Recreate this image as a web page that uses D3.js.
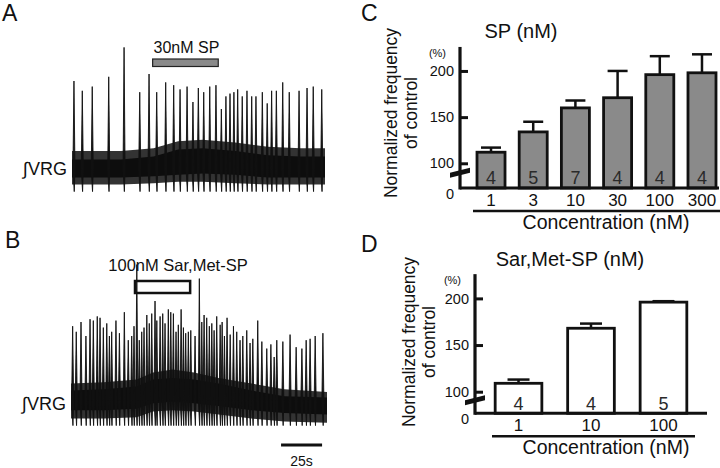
<!DOCTYPE html>
<html>
<head>
<meta charset="utf-8">
<script src="https://cdn.jsdelivr.net/npm/d3@7"></script>
<style>
  body { margin: 0; background: #fff; }
  svg { display: block; }
  text { font-family: "Liberation Sans", Arial, sans-serif; fill: #111; }
</style>
</head>
<body>
<div id="figure"></div>
<script>

// ---- Trace A: 30nM SP (time in s, amplitude in arbitrary units) ----
var spikeTimesA = [1.2, 6.3, 12.4, 22.5, 31.9, 41.5, 47.2, 51.9, 57.4, 62.3, 66.2, 70.5,
  74.1, 77.4, 80.7, 84.4, 88.2, 91.5, 94.3, 96.8, 99.2, 101.5, 104.3, 107.2, 110.1,
  112.7, 116.6, 119.6, 122.3, 125.2, 129.1, 133.1, 139.1, 144.0, 147.8, 153.0];
var spikeAmpA = [75, 68, 71, 78, 99, 67, 80, 67, 74, 72, 69, 71,
  60, 70, 67, 71, 72, 55, 64, 66, 67, 69, 64, 68, 64,
  64, 67, 59, 68, 68, 74, 67, 68, 70, 71, 69];
var envTimesA = [0, 30, 50, 65, 80, 100, 120, 140, 155];
var envOuterHiA = [25, 25, 27, 32, 33, 31, 28, 27, 27];
var envCoreHiA = [19, 19, 21, 26, 27, 25, 22, 21, 21];
var envCoreLoA = [6, 6, 7, 8, 9, 8, 6, 6, 6];
var envOuterLoA = [1, 1, 2, 3, 3, 2, 1, 1, 1];
var drugA = [49.4, 89.6];

// ---- Trace B: 100nM Sar,Met-SP ----
var spikeTimesB = [1.0, 3.2, 6.1, 9.1, 11.6, 13.6, 16.0, 17.7, 19.7, 21.8, 23.4, 24.8,
  27.4, 29.5, 32.5, 34.9, 37.0, 38.4, 40.1, 41.6, 43.1, 44.5, 46.2, 47.7, 49.2, 51.2,
  52.3, 54.3, 55.9, 57.3, 59.3, 60.8, 62.4, 64.0, 65.4, 67.1, 68.5, 69.9, 71.5, 73.0,
  75.6, 78.2, 79.7, 81.1, 82.7, 84.3, 85.8, 87.2, 88.8, 90.9, 92.1, 93.5, 95.1, 97.0,
  99.0, 101.0, 103.0, 104.7, 107.1, 109.1, 110.8, 113.8, 116.3, 119.3, 121.8, 123.8,
  125.4, 129.1, 133.5, 137.2, 140.7, 143.3, 145.7, 148.8, 153.5];
var spikeAmpB = [67, 63, 70, 60, 72, 71, 74, 73, 66, 69, 60, 63,
  71, 62, 77, 57, 60, 67, 111, 57, 63, 66, 75, 69, 76, 85,
  71, 74, 76, 69, 79, 77, 76, 63, 68, 79, 66, 62, 63, 64,
  60, 101, 70, 75, 73, 67, 69, 64, 74, 68, 70, 60, 73, 61,
  67, 63, 57, 60, 64, 55, 58, 71, 56, 51, 54, 45,
  57, 56, 61, 52, 51, 57, 58, 60, 62];
var envTimesB = [0, 20, 40, 50, 62, 75, 90, 110, 130, 156];
var envOuterHiB = [26, 27, 29, 34, 36, 34, 30, 26, 22, 20];
var envCoreHiB = [21, 22, 24, 29, 30, 29, 26, 21, 17, 16];
var envCoreLoB = [7, 7, 8, 12, 13, 12, 10, 7, 5, 4];
var envOuterLoB = [1, 1, 2, 6, 7, 6, 4, 1, -1, -2];
var drugB = [39, 72.6];
var scaleBarB = [128, 153];

// ---- Panel C: SP concentration response ----
var spConc = ["1", "3", "10", "30", "100", "300"];
var spMean = [112, 134, 160, 171, 196, 198];
var spSem = [5, 11, 8, 29, 20, 20];
var spN = [4, 5, 7, 4, 4, 4];

// ---- Panel D: Sar,Met-SP concentration response ----
var sarConc = ["1", "10", "100"];
var sarMean = [109, 168, 196];
var sarSem = [4, 5, 1];
var sarN = [4, 4, 5];

var yTickValues = [0, 100, 150, 200];

var width = 720, height = 468;

var svg = d3.select("#figure").append("svg")
  .attr("width", width)
  .attr("height", height);

// Panel letters
[["A", 2, 21], ["B", 5, 248], ["C", 361, 21], ["D", 361, 252]].forEach(function(p) {
  svg.append("text")
    .attr("x", p[1]).attr("y", p[2])
    .style("font-size", "23px")
    .text(p[0]);
});

function zipEnv(times, hi, lo) {
  return times.map(function(t, i) { return { t: t, hi: hi[i], lo: lo[i] }; });
}

// Draw one integrated VRG trace
function drawTrace(cfg) {
  var g = svg.append("g");

  var x = d3.scaleLinear().domain(cfg.timeDomain).range(cfg.xRange);
  var y = d3.scaleLinear().domain([0, 100]).range(cfg.yRange);

  var area = d3.area()
    .x(function(d) { return x(d.t); })
    .y0(function(d) { return y(d.lo); })
    .y1(function(d) { return y(d.hi); });

  // noisy baseline: outer band and dark core
  g.append("path")
    .datum(zipEnv(cfg.envTimes, cfg.outerHi, cfg.outerLo))
    .attr("d", area)
    .attr("fill", "#333");
  g.append("path")
    .datum(zipEnv(cfg.envTimes, cfg.coreHi, cfg.coreLo))
    .attr("d", area)
    .attr("fill", "#0d0d0d");

  // spikes, each with a small undershoot below the band
  var spikes = cfg.spikeTimes.map(function(t, i) { return { t: t, a: cfg.spikeAmp[i] }; });
  g.selectAll(".spike")
    .data(spikes)
    .enter()
    .append("path")
    .attr("class", "spike")
    .attr("d", function(d) {
      return "M" + (x(d.t) - 1) + "," + y(cfg.spikeBase) +
        "L" + x(d.t) + "," + y(d.a) +
        "L" + (x(d.t) + 1) + "," + y(cfg.spikeBase) +
        "L" + (x(d.t) + 0.3) + "," + y(-4) + "Z";
    })
    .attr("fill", "#111")
    .attr("stroke", "#111")
    .attr("stroke-width", 0.9);

  // label
  g.append("text")
    .attr("x", cfg.xRange[0] - 5)
    .attr("y", cfg.labelY)
    .attr("text-anchor", "end")
    .style("font-size", "18px")
    .text("\u222BVRG");

  return x;
}

var xA = drawTrace({
  timeDomain: [0, 155], xRange: [72, 325], yRange: [186, 46],
  envTimes: envTimesA, outerHi: envOuterHiA, coreHi: envCoreHiA,
  coreLo: envCoreLoA, outerLo: envOuterLoA,
  spikeTimes: spikeTimesA, spikeAmp: spikeAmpA, spikeBase: 12, labelY: 175
});

// drug application bar (A)
svg.append("rect")
  .attr("x", xA(drugA[0]))
  .attr("y", 59)
  .attr("width", xA(drugA[1]) - xA(drugA[0]))
  .attr("height", 7.5)
  .attr("fill", "#8a8a8a")
  .attr("stroke", "#222")
  .attr("stroke-width", 1.2);
svg.append("text")
  .attr("x", (xA(drugA[0]) + xA(drugA[1])) / 2 + 1)
  .attr("y", 53)
  .attr("text-anchor", "middle")
  .style("font-size", "16px")
  .text("30nM SP");

var xB = drawTrace({
  timeDomain: [0, 156], xRange: [71, 327], yRange: [420, 280],
  envTimes: envTimesB, outerHi: envOuterHiB, coreHi: envCoreHiB,
  coreLo: envCoreLoB, outerLo: envOuterLoB,
  spikeTimes: spikeTimesB, spikeAmp: spikeAmpB, spikeBase: 14, labelY: 410
});

// drug application box (B)
svg.append("text")
  .attr("x", 178)
  .attr("y", 271)
  .attr("text-anchor", "middle")
  .style("font-size", "16.5px")
  .text("100nM Sar,Met-SP");
svg.append("rect")
  .attr("x", xB(drugB[0]))
  .attr("y", 281)
  .attr("width", xB(drugB[1]) - xB(drugB[0]))
  .attr("height", 12)
  .attr("fill", "none")
  .attr("stroke", "#111")
  .attr("stroke-width", 2.5);

// time scale bar
svg.append("line")
  .attr("x1", xB(scaleBarB[0])).attr("x2", xB(scaleBarB[1]))
  .attr("y1", 445).attr("y2", 445)
  .attr("stroke", "#111")
  .attr("stroke-width", 3);
svg.append("text")
  .attr("x", (xB(scaleBarB[0]) + xB(scaleBarB[1])) / 2)
  .attr("y", 466)
  .attr("text-anchor", "middle")
  .style("font-size", "14px")
  .text("25s");

// Draw a concentration-response bar panel
function drawBars(cfg) {
  var g = svg.append("g");

  var x = d3.scaleBand()
    .domain(cfg.conc)
    .range(cfg.xRange)
    .paddingInner(cfg.padInner)
    .paddingOuter(cfg.padOuter);

  // broken axis: 0-100 compressed, 100-226 linear
  var y = d3.scaleLinear()
    .domain([0, 100, 226])
    .range([cfg.y0, cfg.y100, cfg.y100 - 126 * cfg.pxPerUnit]);

  var data = cfg.conc.map(function(c, i) {
    return { c: c, mean: cfg.mean[i], sem: cfg.sem[i], n: cfg.n[i] };
  });

  // error bars behind the bars
  g.selectAll(".err")
    .data(data)
    .enter()
    .append("line")
    .attr("x1", function(d) { return x(d.c) + x.bandwidth() / 2; })
    .attr("x2", function(d) { return x(d.c) + x.bandwidth() / 2; })
    .attr("y1", function(d) { return y(d.mean); })
    .attr("y2", function(d) { return y(d.mean + d.sem); })
    .attr("stroke", "#111")
    .attr("stroke-width", 2.5);
  g.selectAll(".cap")
    .data(data)
    .enter()
    .append("line")
    .attr("x1", function(d) { return x(d.c) + x.bandwidth() / 2 - cfg.capW / 2; })
    .attr("x2", function(d) { return x(d.c) + x.bandwidth() / 2 + cfg.capW / 2; })
    .attr("y1", function(d) { return y(d.mean + d.sem); })
    .attr("y2", function(d) { return y(d.mean + d.sem); })
    .attr("stroke", "#111")
    .attr("stroke-width", 2.5);

  g.selectAll(".bar")
    .data(data)
    .enter()
    .append("rect")
    .attr("x", function(d) { return x(d.c); })
    .attr("y", function(d) { return y(d.mean); })
    .attr("width", x.bandwidth())
    .attr("height", function(d) { return cfg.y0 - y(d.mean); })
    .attr("fill", cfg.fill)
    .attr("stroke", "#111")
    .attr("stroke-width", 2.8);

  // n inside bars
  g.selectAll(".nlab")
    .data(data)
    .enter()
    .append("text")
    .attr("x", function(d) { return x(d.c) + x.bandwidth() / 2; })
    .attr("y", cfg.nY)
    .attr("text-anchor", "middle")
    .style("font-size", "18px")
    .style("fill", "#2a2a2a")
    .text(function(d) { return d.n; });

  // y axis, ticks pointing inward
  var yAxis = d3.axisLeft(y)
    .tickValues(yTickValues)
    .tickSize(-8)
    .tickPadding(6)
    .tickFormat(d3.format("d"));
  var ya = g.append("g")
    .attr("transform", "translate(" + cfg.axisX + ",0)")
    .call(yAxis);
  ya.select(".domain").remove();
  ya.selectAll("line").attr("stroke", "#111").attr("stroke-width", 3);
  ya.selectAll("text")
    .style("font-size", "14.5px")
    .style("font-family", "Liberation Sans, Arial, sans-serif")
    .attr("fill", "#111");
  ya.selectAll(".tick").filter(function(d) { return d === 0; }).select("line").remove();
  ya.selectAll(".tick").filter(function(d) { return d === 0; }).select("text").attr("dy", "0.7em");

  // axis lines
  g.append("line")
    .attr("x1", cfg.axisX).attr("x2", cfg.axisX)
    .attr("y1", cfg.y0 + 1.5).attr("y2", y(226))
    .attr("stroke", "#111").attr("stroke-width", 3.2);
  g.append("line")
    .attr("x1", cfg.axisX).attr("x2", cfg.xAxisEnd)
    .attr("y1", cfg.y0).attr("y2", cfg.y0)
    .attr("stroke", "#111").attr("stroke-width", 3);

  // axis break mark
  var by = y(70);
  g.append("path")
    .attr("d", "M" + (cfg.axisX - 10) + "," + (by + 2) +
      "L" + (cfg.axisX + 10) + "," + (by - 3) +
      "L" + (cfg.axisX + 10) + "," + (by + 2) +
      "L" + (cfg.axisX - 10) + "," + (by + 7) + "Z")
    .attr("fill", "#111");

  g.append("text")
    .attr("x", cfg.axisX - 14)
    .attr("y", y(226) + 10)
    .attr("text-anchor", "end")
    .style("font-size", "11px")
    .text("(%)");

  // category labels and underline
  g.selectAll(".xlab")
    .data(data)
    .enter()
    .append("text")
    .attr("x", function(d) { return x(d.c) + x.bandwidth() / 2; })
    .attr("y", cfg.y0 + 18)
    .attr("text-anchor", "middle")
    .style("font-size", "17px")
    .text(function(d) { return d.c; });
  g.append("line")
    .attr("x1", cfg.underline[0]).attr("x2", cfg.underline[1])
    .attr("y1", cfg.y0 + 23).attr("y2", cfg.y0 + 23)
    .attr("stroke", "#111").attr("stroke-width", 2.5);
  g.append("text")
    .attr("x", 606)
    .attr("y", cfg.y0 + 41)
    .attr("text-anchor", "middle")
    .style("font-size", "19.5px")
    .text("Concentration (nM)");

  // title
  g.append("text")
    .attr("x", cfg.titleX)
    .attr("y", cfg.titleY)
    .attr("text-anchor", "middle")
    .style("font-size", "20px")
    .text(cfg.title);

  // y axis title, two lines
  var yt = g.append("text")
    .attr("transform", "translate(" + cfg.ylabX + "," + cfg.ylabY + ") rotate(-90)")
    .attr("text-anchor", "middle")
    .style("font-size", "17.5px");
  yt.append("tspan").attr("x", 0).attr("dy", "0.35em").text("Normalized frequency");
  yt.append("tspan").attr("x", 0).attr("dy", "1.15em").text("of control");
}

drawBars({
  conc: spConc, mean: spMean, sem: spSem, n: spN,
  xRange: [470, 723], padInner: 0.336, padOuter: 0.166,
  y0: 188, y100: 163.3, pxPerUnit: 0.9235,
  axisX: 460, xAxisEnd: 719, capW: 20, fill: "#8a8a8a", nY: 184,
  underline: [473, 720], title: "SP (nM)", titleX: 521, titleY: 38,
  ylabX: 391, ylabY: 113
});

drawBars({
  conc: sarConc, mean: sarMean, sem: sarSem, n: sarN,
  xRange: [478, 704], padInner: 0.356, padOuter: 0.237,
  y0: 413.3, y100: 391.7, pxPerUnit: 0.933,
  axisX: 475, xAxisEnd: 707, capW: 22, fill: "#fff", nY: 409.5,
  underline: [492, 695], title: "Sar,Met-SP (nM)", titleX: 570, titleY: 266,
  ylabX: 409, ylabY: 342
});

</script>
</body>
</html>
